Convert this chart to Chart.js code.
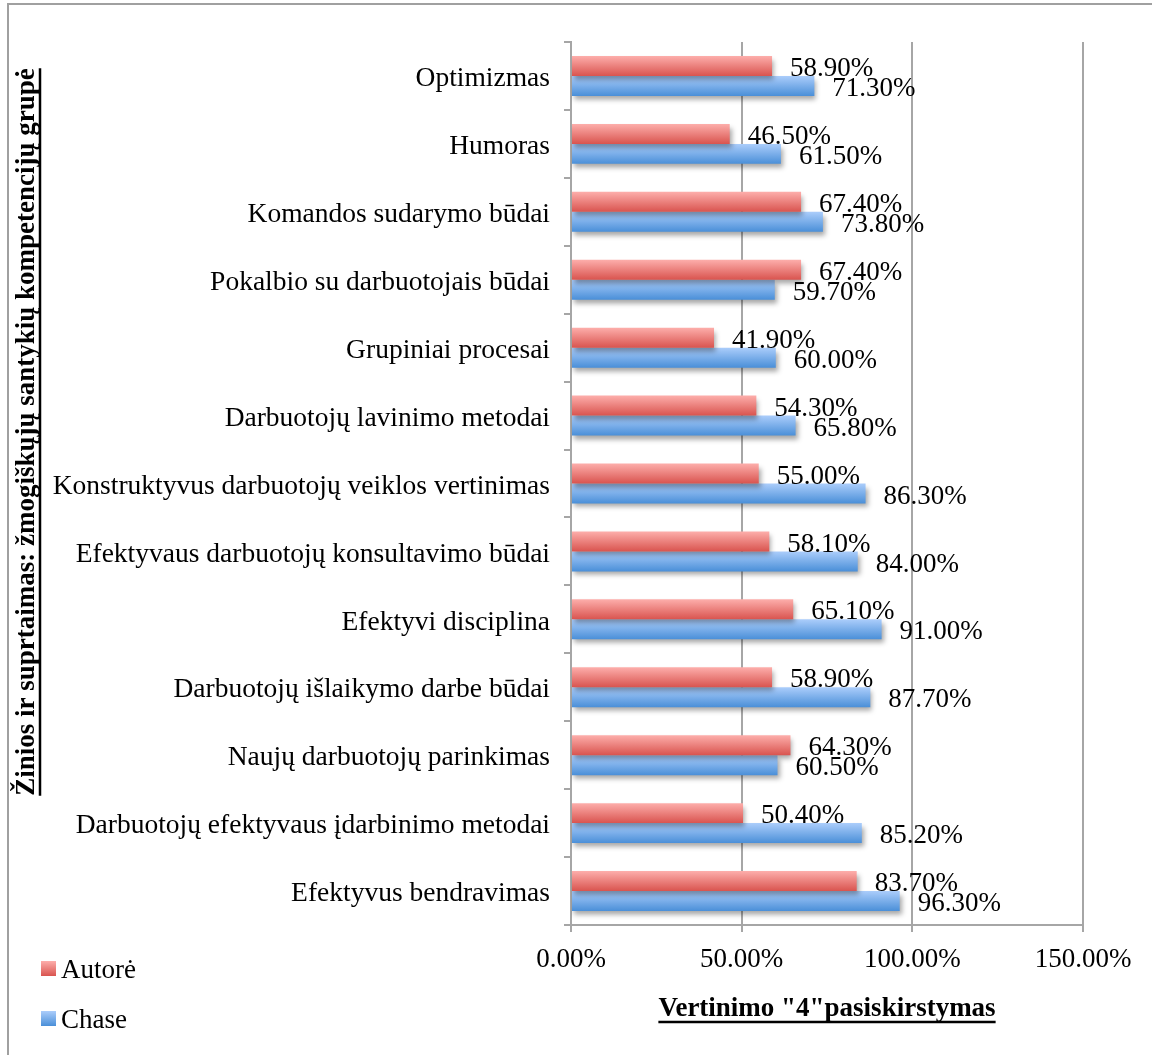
<!DOCTYPE html>
<html>
<head>
<meta charset="utf-8">
<script src="https://cdn.jsdelivr.net/npm/chart.js@4/dist/chart.umd.min.js"></script>
<style>
  html, body { margin: 0; padding: 0; background: #fff; overflow: hidden; }
  #wrap { position: relative; width: 1152px; height: 1055px; }
</style>
</head>
<body>
<div id="wrap"><canvas id="chart"></canvas></div>
<script>
// categories, top to bottom
const categories = [
    "Optimizmas",
    "Humoras",
    "Komandos sudarymo būdai",
    "Pokalbio su darbuotojais būdai",
    "Grupiniai procesai",
    "Darbuotojų lavinimo metodai",
    "Konstruktyvus darbuotojų veiklos vertinimas",
    "Efektyvaus darbuotojų konsultavimo būdai",
    "Efektyvi disciplina",
    "Darbuotojų išlaikymo darbe būdai",
    "Naujų darbuotojų parinkimas",
    "Darbuotojų efektyvaus įdarbinimo metodai",
    "Efektyvus bendravimas",
];
const autoreValues = [58.9, 46.5, 67.4, 67.4, 41.9, 54.3, 55.0, 58.1, 65.1, 58.9, 64.3, 50.4, 83.7];
const chaseValues = [71.3, 61.5, 73.8, 59.7, 60.0, 65.8, 86.3, 84.0, 91.0, 87.7, 60.5, 85.2, 96.3];
const xTicks = [0, 50, 100, 150];

const seriesNames = ["Autorė", "Chase"];
const gradientStops = [
    ["#fdaeab", "#d9544f"],
    ["#abcdfb", "#4a8fd8"],
];

const FONT = "'Liberation Serif', 'Times New Roman', serif";
const FONT_SIZE = 27;
const Y_TITLE = "Žinios ir suprtaimas: žmogiškųjų santykių kompetencijų grupė";
const X_TITLE = "Vertinimo \"4\"pasiskirstymas";

function fmt(v) {
    return v.toFixed(2) + "%";
}

function barGradient(ctx, top, height, stops) {
    const g = ctx.createLinearGradient(0, top, 0, top + height);
    g.addColorStop(0, stops[0]);
    g.addColorStop(1, stops[1]);
    return g;
}

const decor = {
    id: "decor",
    beforeDraw(chart) {
        const ctx = chart.ctx;
        ctx.save();
        ctx.strokeStyle = "#a0a0a0";
        ctx.lineWidth = 2;
        ctx.beginPath();
        ctx.moveTo(8, chart.height);
        ctx.lineTo(8, 4);
        ctx.lineTo(chart.width, 4);
        ctx.stroke();
        ctx.restore();
    },
    beforeDatasetsDraw(chart) {
        const ctx = chart.ctx;
        chart.data.datasets.forEach((ds, i) => {
            const meta = chart.getDatasetMeta(i);
            meta.data.forEach((el) => {
                const top = el.y - el.height / 2;
                el.options = Object.assign({}, el.options, {
                    backgroundColor: barGradient(ctx, top, el.height, gradientStops[i]),
                });
            });
        });
        ctx.save();
        ctx.shadowColor = "rgba(0, 0, 0, 0.35)";
        ctx.shadowBlur = 5;
        ctx.shadowOffsetX = 2;
        ctx.shadowOffsetY = 4;
    },
    afterDatasetsDraw(chart) {
        const ctx = chart.ctx;
        ctx.restore();
        ctx.save();
        ctx.font = FONT_SIZE + "px " + FONT;
        ctx.fillStyle = "#000";
        ctx.textAlign = "left";
        ctx.textBaseline = "middle";
        chart.data.datasets.forEach((ds, i) => {
            const meta = chart.getDatasetMeta(i);
            meta.data.forEach((el, j) => {
                ctx.fillText(fmt(ds.data[j]), el.x + 18, el.y + 3);
            });
        });
        ctx.restore();
    },
    afterDraw(chart) {
        const ctx = chart.ctx;
        const area = chart.chartArea;
        ctx.save();
        ctx.fillStyle = "#000";
        ctx.strokeStyle = "#000";

        // y axis title, rotated and underlined
        ctx.font = "bold 27px " + FONT;
        ctx.translate(27, 432);
        ctx.rotate(-Math.PI / 2);
        ctx.textAlign = "center";
        ctx.textBaseline = "middle";
        ctx.fillText(Y_TITLE, 0, 0);
        let w = ctx.measureText(Y_TITLE).width;
        ctx.lineWidth = 2.5;
        ctx.beginPath();
        ctx.moveTo(-w / 2, 13);
        ctx.lineTo(w / 2, 13);
        ctx.stroke();
        ctx.setTransform(1, 0, 0, 1, 0, 0);

        // x axis title
        const cx = (area.left + area.right) / 2;
        ctx.fillText(X_TITLE, cx, 1009);
        w = ctx.measureText(X_TITLE).width;
        ctx.beginPath();
        ctx.moveTo(cx - w / 2, 1022);
        ctx.lineTo(cx + w / 2, 1022);
        ctx.stroke();

        // legend
        ctx.font = FONT_SIZE + "px " + FONT;
        ctx.textAlign = "left";
        seriesNames.forEach((name, i) => {
            const y = 968 + i * 50;
            ctx.fillStyle = barGradient(ctx, y - 7, 15, gradientStops[i]);
            ctx.fillRect(41, y - 7, 15, 15);
            ctx.fillStyle = "#000";
            ctx.fillText(name, 61, y + 3);
        });
        ctx.restore();
    },
};

new Chart(document.getElementById("chart"), {
    type: "bar",
    data: {
        labels: categories,
        datasets: [
            { label: seriesNames[0], data: autoreValues, backgroundColor: gradientStops[0][1] },
            { label: seriesNames[1], data: chaseValues, backgroundColor: gradientStops[1][1] },
        ],
    },
    options: {
        indexAxis: "y",
        responsive: true,
        maintainAspectRatio: false,
        animation: false,
        datasets: {
            bar: { categoryPercentage: 1 / 1.7, barPercentage: 1 },
        },
        layout: { padding: { left: 40, top: 42, right: 69, bottom: 0 } },
        plugins: {
            legend: { display: false },
            tooltip: { enabled: false },
        },
        scales: {
            x: {
                min: 0,
                max: 150,
                afterBuildTicks: (scale) => {
                    scale.ticks = xTicks.map((v) => ({ value: v }));
                },
                afterFit: (scale) => {
                    scale.height = 130;
                },
                ticks: {
                    font: { family: FONT, size: FONT_SIZE },
                    color: "#000",
                    padding: 12,
                    callback: (v) => fmt(v),
                },
                grid: { color: "#a6a6a6", lineWidth: 2, tickLength: 7 },
                border: { color: "#a6a6a6", width: 2 },
            },
            y: {
                afterFit: (scale) => {
                    scale.width = 531;
                },
                ticks: {
                    font: { family: FONT, size: 27.5 },
                    color: "#000",
                    padding: 14,
                    labelOffset: 3,
                },
                grid: { drawOnChartArea: false, offset: true, color: "#a6a6a6", lineWidth: 2, tickLength: 7 },
                border: { color: "#a6a6a6", width: 2 },
            },
        },
    },
    plugins: [decor],
});
</script>
</body>
</html>
